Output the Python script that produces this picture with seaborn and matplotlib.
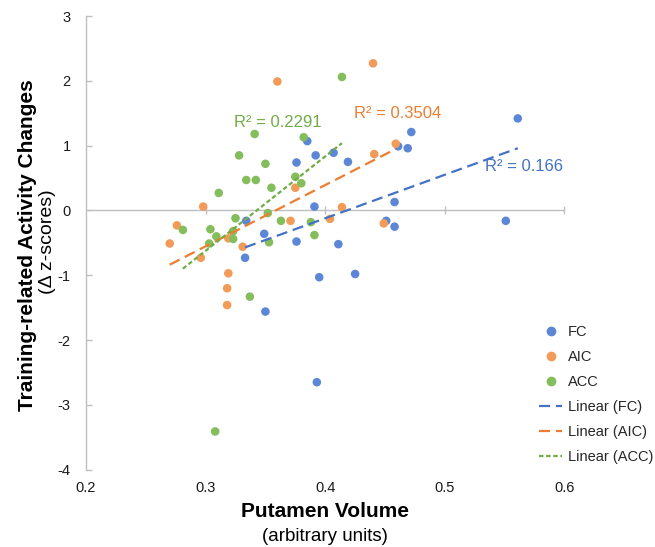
import matplotlib
matplotlib.use("Agg")
import matplotlib.pyplot as plt
from matplotlib.lines import Line2D
import seaborn as sns
import numpy as np
import pandas as pd

sns.set_theme(style="white")
plt.rcParams['font.family'] = ['Liberation Sans', 'DejaVu Sans']
plt.rcParams['axes.unicode_minus'] = False

# ---- data ----
series_names = ["FC", "AIC", "ACC"]
fc_x = [0.385, 0.392, 0.407, 0.376, 0.419, 0.561, 0.472, 0.469, 0.461, 0.391, 0.334, 0.349,
        0.376, 0.411, 0.333, 0.395, 0.425, 0.350, 0.458, 0.451, 0.458, 0.551, 0.393]
fc_y = [1.07, 0.85, 0.89, 0.74, 0.75, 1.42, 1.21, 0.96, 0.99, 0.06, -0.16, -0.36,
        -0.48, -0.52, -0.73, -1.03, -0.98, -1.56, 0.13, -0.16, -0.25, -0.16, -2.65]
aic_x = [0.360, 0.440, 0.441, 0.459, 0.375, 0.298, 0.414, 0.371, 0.404, 0.276, 0.319, 0.270,
         0.331, 0.296, 0.319, 0.318, 0.318, 0.449]
aic_y = [1.99, 2.27, 0.87, 1.03, 0.35, 0.06, 0.05, -0.16, -0.13, -0.23, -0.43, -0.51,
         -0.56, -0.73, -0.97, -1.20, -1.46, -0.20]
acc_x = [0.414, 0.341, 0.382, 0.328, 0.350, 0.334, 0.342, 0.375, 0.380, 0.355, 0.311, 0.352,
         0.325, 0.363, 0.388, 0.281, 0.304, 0.323, 0.309, 0.323, 0.303, 0.391, 0.353, 0.337, 0.308]
acc_y = [2.06, 1.18, 1.13, 0.85, 0.72, 0.47, 0.47, 0.52, 0.42, 0.35, 0.27, -0.04,
         -0.12, -0.16, -0.18, -0.30, -0.29, -0.32, -0.40, -0.44, -0.51, -0.38, -0.49, -1.33, -3.41]
r2_labels = ["R² = 0.166", "R² = 0.3504", "R² = 0.2291"]
x_ticks = [0.2, 0.3, 0.4, 0.5, 0.6]
y_ticks = [3, 2, 1, 0, -1, -2, -3, -4]

df = pd.concat([
    pd.DataFrame({"x": fc_x, "y": fc_y, "series": "FC"}),
    pd.DataFrame({"x": aic_x, "y": aic_y, "series": "AIC"}),
    pd.DataFrame({"x": acc_x, "y": acc_y, "series": "ACC"}),
], ignore_index=True)

point_colors = {"FC": "#5B87D6", "AIC": "#F29A57", "ACC": "#84BD5C"}
line_colors = {"FC": "#4472C4", "AIC": "#ED7D31", "ACC": "#70AD47"}
dash_styles = {"FC": (5, 2.6), "AIC": (5, 2.6), "ACC": (2.0, 1.2)}
r2_pos = {"FC": (0.5662, 0.678), "AIC": (0.4605, 1.49), "ACC": (0.3605, 1.356)}

fig = plt.figure(figsize=(6.55, 5.47), dpi=100)
ax = fig.add_axes([0.1313, 0.1413, 0.7304, 0.8294])

sns.scatterplot(data=df, x="x", y="y", hue="series", hue_order=series_names,
                palette=point_colors, s=38, linewidth=0, ax=ax, legend=False, zorder=3)

for name in series_names:
    sub = df[df["series"] == name]
    sns.regplot(data=sub, x="x", y="y", scatter=False, ci=None, truncate=True, ax=ax,
                line_kws=dict(color=line_colors[name], lw=1.6, dashes=dash_styles[name], zorder=4))

for name, lab in zip(series_names, r2_labels):
    ax.text(*r2_pos[name], lab, color=line_colors[name], fontsize=12, ha="center", va="center")

ax.set_xlim(0.2, 0.6)
ax.set_ylim(-4, 3)
ax.set_yticks(y_ticks)
ax.set_xticks(x_ticks)
ax.set_xticklabels([f"{v:.1f}" for v in x_ticks])
ax.set_xlabel("")
ax.set_ylabel("")
for s in ["top", "right", "bottom"]:
    ax.spines[s].set_visible(False)
ax.spines["left"].set_color("#BFBFBF")
ax.spines["left"].set_linewidth(1.0)
ax.tick_params(axis="y", direction="in", length=4, width=1, color="#BFBFBF",
               labelsize=10.5, labelcolor="#1a1a1a", pad=11, left=True)
ax.tick_params(axis="x", length=0, labelsize=10.5, labelcolor="#1a1a1a", pad=8)

# horizontal axis line at y = 0 with crossing ticks
sec = ax.secondary_xaxis(4 / 7)
sec.set_xticks(x_ticks[1:])
sec.tick_params(direction="inout", length=6, width=1, color="#BFBFBF", labelbottom=False,
                labeltop=False, bottom=True, top=False)
sec.set_xticklabels([])
for s in sec.spines.values():
    s.set_color("#BFBFBF")
    s.set_linewidth(1.0)

# axis titles
fig.text(325 / 655, 1 - 511.7 / 547, "Putamen Volume", fontsize=15, fontweight="bold",
         ha="center", va="center", color="#000000")
fig.text(325 / 655, 1 - 536.7 / 547, "(arbitrary units)", fontsize=13.5,
         ha="center", va="center", color="#000000")
fig.text(28 / 655, 1 - 245 / 547, "Training-related Activity Changes", fontsize=15,
         fontweight="bold", rotation=90, ha="center", va="center", color="#000000")
fig.text(47 / 655, 1 - 242 / 547, "(Δ z-scores)", fontsize=14, rotation=90,
         ha="center", va="center", color="#000000")

# legend
handles = [Line2D([], [], ls="none", marker="o", ms=7, mec="none", mfc=point_colors[n])
           for n in series_names]
handles += [Line2D([], [], color=line_colors[n], lw=1.6, dashes=dash_styles[n]) for n in series_names]
labels = series_names + [f"Linear ({n})" for n in series_names]
fig.legend(handles, labels, loc="upper left", bbox_to_anchor=(539 / 655, 1 - 325 / 547),
           frameon=False, fontsize=10.5, handlelength=1.6, handletextpad=0.4,
           labelspacing=0.76, borderaxespad=0, borderpad=0)

fig.savefig("out.png", dpi=100)
